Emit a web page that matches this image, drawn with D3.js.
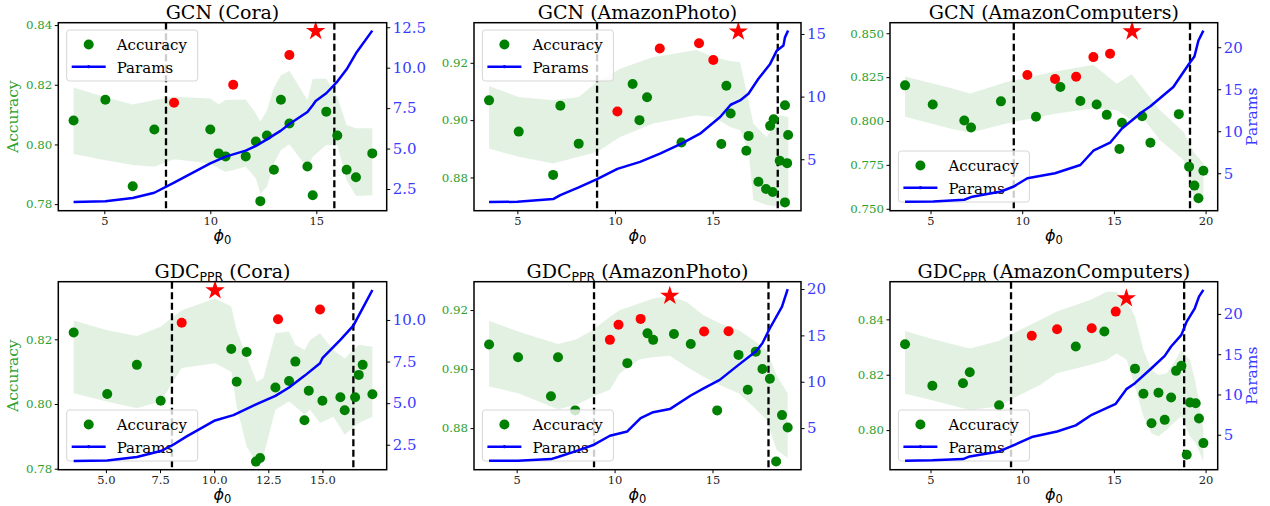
<!DOCTYPE html>
<html lang="en">
<head>
<meta charset="UTF-8">
<title>phi0 sweep</title>
<script src="https://d3js.org/d3.v7.min.js"></script>
<style>
  body { margin: 0; background: #fff; }
  text { font-family: "DejaVu Serif", serif; }
</style>
</head>
<body>
<script>
// ---------- GCN (Cora)
var gcnCoraPhi = [3.55, 5.05, 6.34, 7.36, 10.0, 10.39, 10.72, 11.67, 12.15, 12.36, 12.67, 13.0, 13.33, 13.73, 14.58, 14.83, 15.47, 15.99, 16.43, 16.87, 17.64];
var gcnCoraAcc = [0.808, 0.815, 0.786, 0.805, 0.805, 0.797, 0.796, 0.796, 0.801, 0.781, 0.803, 0.7915, 0.815, 0.807, 0.7926, 0.783, 0.811, 0.803, 0.7915, 0.789, 0.797];
var gcnCoraBestPhi = [8.29, 11.08, 13.73];
var gcnCoraBestAcc = [0.814, 0.820, 0.830];
var gcnCoraStar = [14.97, 0.838];
var gcnCoraBandPhi = [3.55, 5.05, 6.34, 7.36, 8.29, 10.0, 10.39, 10.72, 11.67, 12.15, 12.36, 12.67, 13.0, 13.33, 13.73, 14.58, 14.83, 15.47, 15.99, 16.43, 16.87, 17.64];
var gcnCoraBandHi = [0.8191, 0.8158, 0.8134, 0.8149, 0.8160, 0.8154, 0.8135, 0.8149, 0.8151, 0.8104, 0.8076, 0.8115, 0.8191, 0.8232, 0.8247, 0.8149, 0.8220, 0.8220, 0.8160, 0.8065, 0.8054, 0.8054];
var gcnCoraBandLo = [0.7968, 0.7947, 0.7931, 0.7925, 0.7950, 0.7936, 0.7920, 0.7908, 0.7925, 0.7886, 0.7834, 0.7858, 0.7936, 0.7981, 0.8001, 0.7920, 0.7959, 0.7998, 0.7998, 0.7880, 0.7827, 0.7830];
var gcnCoraParamPhi = [3.55, 5.05, 6.34, 7.36, 8.29, 10.0, 10.72, 11.67, 12.15, 12.67, 13.33, 13.73, 14.58, 14.83, 14.97, 15.47, 15.99, 16.43, 16.87, 17.64];
var gcnCoraParams = [1.70, 1.74, 1.94, 2.27, 2.90, 4.09, 4.5, 4.87, 5.16, 5.57, 6.11, 6.52, 7.26, 7.68, 7.94, 8.42, 9.14, 9.9, 10.89, 12.29];
var gcnCoraCuts = [7.91, 15.85];

// ---------- GCN (AmazonPhoto)
var gcnPhotoPhi = [3.55, 5.07, 6.83, 7.20, 8.14, 10.90, 11.25, 11.64, 13.40, 15.44, 15.70, 15.92, 16.72, 16.84, 17.34, 17.73, 17.94, 18.07, 18.12, 18.43, 18.70, 18.70, 18.81, 18.86];
var gcnPhotoAcc = [0.9069, 0.896, 0.8809, 0.905, 0.8918, 0.9126, 0.900, 0.908, 0.8922, 0.8917, 0.912, 0.9023, 0.8893, 0.8945, 0.8785, 0.876, 0.898, 0.8749, 0.9003, 0.8858, 0.9052, 0.8713, 0.885, 0.8948];
var gcnPhotoBestPhi = [10.12, 12.29, 14.30, 15.03];
var gcnPhotoBestAcc = [0.903, 0.925, 0.9268, 0.921];
var gcnPhotoStar = [16.31, 0.9309];
var gcnPhotoBandPhi = [3.55, 5.07, 6.83, 8.14, 9.08, 10.26, 11.96, 14.18, 15.03, 15.89, 16.40, 16.83, 17.08, 17.76, 18.45, 18.87];
var gcnPhotoBandHi = [0.9119, 0.9081, 0.9069, 0.9081, 0.9133, 0.9179, 0.9220, 0.9245, 0.9220, 0.9206, 0.9202, 0.9069, 0.8988, 0.8941, 0.9017, 0.9011];
var gcnPhotoBandLo = [0.8901, 0.8872, 0.8849, 0.8872, 0.8889, 0.8941, 0.8988, 0.9017, 0.9011, 0.8976, 0.8965, 0.8895, 0.8721, 0.8704, 0.8698, 0.8698];
var gcnPhotoParamPhi = [3.55, 5.0, 6.83, 7.2, 8.14, 9.08, 10.12, 11.28, 12.3, 13.4, 14.35, 15.38, 15.92, 16.4, 16.83, 17.34, 17.94, 18.28, 18.62, 18.7, 18.86];
var gcnPhotoParams = [1.58, 1.6, 1.82, 2.14, 2.75, 3.41, 4.23, 4.79, 5.45, 6.25, 7.04, 8.37, 9.35, 9.69, 10.23, 11.42, 12.61, 13.67, 14.07, 14.73, 15.27];
var gcnPhotoCuts = [9.08, 18.33];

// ---------- GCN (AmazonComputers)
var gcnCompPhi = [3.61, 5.12, 6.84, 7.21, 8.84, 10.75, 12.08, 13.17, 14.06, 14.61, 15.30, 15.44, 16.54, 16.99, 18.54, 19.10, 19.39, 19.61, 19.88];
var gcnCompAcc = [0.8203, 0.8094, 0.8003, 0.7963, 0.8112, 0.8024, 0.8194, 0.8114, 0.8094, 0.8035, 0.784, 0.799, 0.8027, 0.7876, 0.8039, 0.774, 0.7632, 0.756, 0.7717];
var gcnCompBestPhi = [10.28, 11.79, 12.94, 13.88, 14.79];
var gcnCompBestAcc = [0.8262, 0.8239, 0.8252, 0.8364, 0.8383];
var gcnCompStar = [15.99, 0.851];
var gcnCompBandPhi = [3.61, 6.06, 7.15, 9.15, 11.88, 13.88, 15.15, 15.97, 16.52, 17.52, 18.79, 19.34, 19.88];
var gcnCompBandHi = [0.8254, 0.8190, 0.8156, 0.8222, 0.8283, 0.8320, 0.8212, 0.8266, 0.8194, 0.8061, 0.7939, 0.7825, 0.7759];
var gcnCompBandLo = [0.8024, 0.7957, 0.7933, 0.7986, 0.8043, 0.8071, 0.8061, 0.8005, 0.8024, 0.7891, 0.7778, 0.7570, 0.7551];
var gcnCompParamPhi = [3.61, 5.15, 6.84, 7.21, 8.84, 9.54, 10.28, 11.79, 13.17, 13.88, 14.79, 15.44, 16.54, 16.99, 18.24, 19.1, 19.39, 19.61, 19.88];
var gcnCompParams = [1.6, 1.64, 1.84, 2.16, 2.83, 3.42, 4.41, 5.0, 5.98, 7.68, 8.63, 10.33, 12.3, 12.97, 15.26, 18.03, 18.9, 20.8, 21.97];
var gcnCompCuts = [9.54, 19.15];

// ---------- GDC_PPR (Cora)
var gdcCoraPhi = [3.51, 5.06, 6.43, 7.53, 10.79, 11.04, 11.50, 11.93, 12.12, 12.83, 13.46, 13.75, 14.17, 14.37, 15.0, 15.83, 16.03, 16.51, 16.68, 16.86, 17.31];
var gdcCoraAcc = [0.8221, 0.8031, 0.8121, 0.801, 0.817, 0.8069, 0.8161, 0.7822, 0.7833, 0.8051, 0.8071, 0.8131, 0.795, 0.8041, 0.801, 0.8021, 0.7981, 0.8021, 0.809, 0.8121, 0.803];
var gdcCoraBestPhi = [8.50, 12.95, 14.89];
var gdcCoraBestAcc = [0.8251, 0.8262, 0.8292];
var gdcCoraStar = [10.04, 0.8351];
var gdcCoraBandPhi = [3.51, 5.03, 6.43, 7.53, 8.50, 10.04, 10.79, 11.04, 11.50, 11.96, 12.27, 12.83, 13.46, 13.75, 14.17, 14.43, 14.89, 15.51, 16.03, 16.68, 17.31];
var gdcCoraBandHi = [0.8258, 0.8229, 0.8210, 0.8239, 0.8290, 0.8326, 0.8301, 0.8229, 0.8147, 0.8069, 0.8080, 0.8219, 0.8224, 0.8183, 0.8167, 0.8198, 0.8219, 0.8167, 0.8141, 0.8183, 0.8177];
var gdcCoraBandLo = [0.8033, 0.8008, 0.7987, 0.8008, 0.8111, 0.8126, 0.8100, 0.7992, 0.7869, 0.7817, 0.7838, 0.7982, 0.8008, 0.7992, 0.7967, 0.7982, 0.7941, 0.7961, 0.7905, 0.7941, 0.7961];
var gdcCoraParamPhi = [3.51, 5.06, 6.43, 7.53, 8.11, 8.73, 10.04, 10.89, 11.96, 12.83, 13.46, 14.17, 14.89, 15.0, 15.83, 16.43, 16.9, 17.31];
var gdcCoraParams = [1.52, 1.56, 1.76, 2.12, 2.5, 3.0, 3.96, 4.28, 4.94, 5.44, 5.94, 6.64, 7.4, 7.7, 8.8, 9.66, 10.8, 11.8];
var gdcCoraCuts = [8.05, 16.43];

// ---------- GDC_PPR (AmazonPhoto)
var gdcPhotoPhi = [3.59, 5.07, 6.75, 7.11, 7.99, 10.65, 11.68, 11.97, 13.03, 13.89, 15.24, 16.33, 16.80, 17.21, 17.55, 17.93, 18.25, 18.55, 18.84];
var gdcPhotoAcc = [0.9083, 0.904, 0.8908, 0.904, 0.886, 0.902, 0.9121, 0.9099, 0.9119, 0.9085, 0.886, 0.9048, 0.893, 0.9059, 0.9, 0.8967, 0.8687, 0.8844, 0.8802];
var gdcPhotoBestPhi = [9.76, 10.20, 11.33, 14.57, 15.82];
var gdcPhotoBestAcc = [0.9099, 0.915, 0.917, 0.9127, 0.9128];
var gdcPhotoStar = [12.82, 0.9248];
var gdcPhotoBandPhi = [3.59, 5.07, 7.11, 8.06, 8.91, 9.76, 10.27, 11.29, 11.97, 12.82, 13.67, 14.52, 15.37, 16.33, 17.07, 17.76, 18.27, 18.84];
var gdcPhotoBandHi = [0.9164, 0.9127, 0.9085, 0.9101, 0.9133, 0.9177, 0.92, 0.9223, 0.9239, 0.9247, 0.9228, 0.9183, 0.9155, 0.9132, 0.9099, 0.9065, 0.8980, 0.8918];
var gdcPhotoBandLo = [0.8941, 0.8918, 0.8864, 0.8879, 0.8907, 0.8930, 0.8986, 0.9033, 0.9040, 0.9045, 0.9008, 0.8975, 0.8946, 0.8918, 0.8873, 0.8828, 0.8727, 0.8699];
var gdcPhotoParamPhi = [3.59, 5.07, 6.75, 7.11, 7.99, 8.95, 9.76, 10.65, 11.33, 11.97, 12.82, 13.89, 14.57, 15.37, 16.33, 17.21, 17.55, 17.93, 18.55, 18.84];
var gdcPhotoParams = [1.49, 1.49, 1.66, 1.88, 2.49, 3.21, 4.18, 4.64, 6.08, 6.72, 7.05, 8.52, 9.31, 10.2, 11.82, 13.25, 14.15, 15.77, 18.1, 20.0];
var gdcPhotoCuts = [8.95, 17.86];

// ---------- GDC_PPR (AmazonComputers)
var gdcCompPhi = [3.61, 5.10, 6.77, 7.14, 8.74, 12.92, 14.48, 16.15, 16.61, 17.05, 17.43, 17.77, 18.12, 18.39, 18.68, 18.97, 19.15, 19.46, 19.64, 19.88];
var gdcCompAcc = [0.831, 0.816, 0.8169, 0.8209, 0.809, 0.8302, 0.8356, 0.8222, 0.8131, 0.8025, 0.8135, 0.8037, 0.8118, 0.8214, 0.8232, 0.7911, 0.81, 0.8097, 0.8042, 0.7953];
var gdcCompBestPhi = [10.52, 11.90, 13.79, 15.1];
var gdcCompBestAcc = [0.8341, 0.8364, 0.8368, 0.8428];
var gdcCompStar = [15.68, 0.8476];
var gdcCompBandPhi = [3.61, 5.15, 7.14, 8.74, 9.70, 10.97, 11.88, 13.70, 14.61, 15.15, 15.70, 16.15, 16.61, 17.05, 17.43, 17.88, 18.24, 18.68, 19.15, 19.46, 19.88];
var gdcCompBandHi = [0.8358, 0.8328, 0.8295, 0.8323, 0.8356, 0.8398, 0.8428, 0.8470, 0.8500, 0.8500, 0.8464, 0.8410, 0.8289, 0.8217, 0.8199, 0.8205, 0.8241, 0.8289, 0.8253, 0.8169, 0.8001];
var gdcCompBandLo = [0.8131, 0.8107, 0.8073, 0.8085, 0.8121, 0.8163, 0.8205, 0.8235, 0.8253, 0.8277, 0.8253, 0.8157, 0.8049, 0.7989, 0.7977, 0.8001, 0.8025, 0.8049, 0.7977, 0.7953, 0.7887];
var gdcCompParamPhi = [3.61, 5.10, 6.77, 7.14, 8.74, 9.39, 10.52, 11.9, 12.92, 13.79, 15.1, 15.68, 16.15, 17.05, 17.77, 18.12, 18.68, 18.97, 19.41, 19.64, 19.88];
var gdcCompParams = [1.78, 1.82, 1.98, 2.31, 2.93, 3.55, 4.71, 5.41, 6.16, 7.48, 8.84, 10.66, 11.4, 13.26, 14.79, 15.95, 17.4, 19.05, 20.7, 22.15, 22.98];
var gdcCompCuts = [9.39, 18.83];

// tick labels
var xTicksInt = [5, 10, 15, 20];
var xTicksHalf = [5.0, 7.5, 10.0, 12.5, 15.0];
var accTicks2 = [0.78, 0.80, 0.82, 0.84, 0.86, 0.88, 0.90, 0.92, 0.94];
var accTicks3 = [0.750, 0.775, 0.800, 0.825, 0.850];
var parTicksHalf = [2.5, 5.0, 7.5, 10.0, 12.5];
var parTicksInt = [5, 10, 15, 20];

var zip = function(a, b) { return a.map(function(v, i) { return [v, b[i]]; }); };

var panels = [
  { model: "GCN", data: "Cora", col: 0, row: 0, leg: "top", yLab: true, pLab: false,
    pts: zip(gcnCoraPhi, gcnCoraAcc), best: zip(gcnCoraBestPhi, gcnCoraBestAcc), star: gcnCoraStar,
    band: gcnCoraBandPhi.map(function(p, i) { return [p, gcnCoraBandLo[i], gcnCoraBandHi[i]]; }),
    params: zip(gcnCoraParamPhi, gcnCoraParams), cuts: gcnCoraCuts,
    xd: [2.83, 18.32], yd: [0.7778, 0.8408], pd: [1.16, 12.78],
    xt: xTicksInt, xf: "d", yt: accTicks2, yf: ".2f", pt: parTicksHalf, pf: ".1f" },
  { model: "GCN", data: "AmazonPhoto", col: 1, row: 0, leg: "top", yLab: false, pLab: false,
    pts: zip(gcnPhotoPhi, gcnPhotoAcc), best: zip(gcnPhotoBestPhi, gcnPhotoBestAcc), star: gcnPhotoStar,
    band: gcnPhotoBandPhi.map(function(p, i) { return [p, gcnPhotoBandLo[i], gcnPhotoBandHi[i]]; }),
    params: zip(gcnPhotoParamPhi, gcnPhotoParams), cuts: gcnPhotoCuts,
    xd: [2.78, 19.52], yd: [0.8684, 0.934], pd: [0.89, 15.9],
    xt: xTicksInt, xf: "d", yt: accTicks2, yf: ".2f", pt: parTicksInt, pf: "d" },
  { model: "GCN", data: "AmazonComputers", col: 2, row: 0, leg: "bottom", yLab: false, pLab: true,
    pts: zip(gcnCompPhi, gcnCompAcc), best: zip(gcnCompBestPhi, gcnCompBestAcc), star: gcnCompStar,
    band: gcnCompBandPhi.map(function(p, i) { return [p, gcnCompBandLo[i], gcnCompBandHi[i]]; }),
    params: zip(gcnCompParamPhi, gcnCompParams), cuts: gcnCompCuts,
    xd: [2.79, 20.66], yd: [0.7489, 0.856], pd: [0.54, 22.92],
    xt: xTicksInt, xf: "d", yt: accTicks3, yf: ".3f", pt: parTicksInt, pf: "d" },
  { model: "GDC", data: "Cora", col: 0, row: 1, leg: "bottom", yLab: true, pLab: false,
    pts: zip(gdcCoraPhi, gdcCoraAcc), best: zip(gdcCoraBestPhi, gdcCoraBestAcc), star: gdcCoraStar,
    band: gdcCoraBandPhi.map(function(p, i) { return [p, gdcCoraBandLo[i], gdcCoraBandHi[i]]; }),
    params: zip(gdcCoraParamPhi, gdcCoraParams), cuts: gdcCoraCuts,
    xd: [2.80, 17.97], yd: [0.7797, 0.8378], pd: [1.0, 12.3],
    xt: xTicksHalf, xf: ".1f", yt: accTicks2, yf: ".2f", pt: parTicksHalf, pf: ".1f" },
  { model: "GDC", data: "AmazonPhoto", col: 1, row: 1, leg: "bottom", yLab: false, pLab: false,
    pts: zip(gdcPhotoPhi, gdcPhotoAcc), best: zip(gdcPhotoBestPhi, gdcPhotoBestAcc), star: gdcPhotoStar,
    band: gdcPhotoBandPhi.map(function(p, i) { return [p, gdcPhotoBandLo[i], gdcPhotoBandHi[i]]; }),
    params: zip(gdcPhotoParamPhi, gdcPhotoParams), cuts: gdcPhotoCuts,
    xd: [2.82, 19.52], yd: [0.8659, 0.9296], pd: [0.515, 20.79],
    xt: xTicksInt, xf: "d", yt: accTicks2, yf: ".2f", pt: parTicksInt, pf: "d" },
  { model: "GDC", data: "AmazonComputers", col: 2, row: 1, leg: "bottom", yLab: false, pLab: true,
    pts: zip(gdcCompPhi, gdcCompAcc), best: zip(gdcCompBestPhi, gdcCompBestAcc), star: gdcCompStar,
    band: gdcCompBandPhi.map(function(p, i) { return [p, gdcCompBandLo[i], gdcCompBandHi[i]]; }),
    params: zip(gdcCompParamPhi, gdcCompParams), cuts: gdcCompCuts,
    xd: [2.79, 20.66], yd: [0.7857, 0.8536], pd: [0.66, 24.0],
    xt: xTicksInt, xf: "d", yt: accTicks2, yf: ".2f", pt: parTicksInt, pf: "d" }
];

var colX = [58.3, 474, 890];
var colW = [328.4, 327, 327.7];
var rowY = [22.7, 281.7];
var h = 188;

var accColor = "#2ca02c";
var parColor = "#3a3aff";

var svg = d3.select("body").append("svg")
  .attr("width", 1270)
  .attr("height", 506);

panels.forEach(function(p) {
  var w = colW[p.col];
  var g = svg.append("g")
    .attr("transform", "translate(" + colX[p.col] + "," + rowY[p.row] + ")");

  var x = d3.scaleLinear().domain(p.xd).range([0, w]);
  var y = d3.scaleLinear().domain(p.yd).range([h, 0]);
  var yp = d3.scaleLinear().domain(p.pd).range([h, 0]);

  var inX = function(v) { return v >= p.xd[0] && v <= p.xd[1]; };

  // std band
  g.append("path")
    .datum(p.band)
    .attr("fill", "rgb(0,128,0)")
    .attr("fill-opacity", 0.11)
    .attr("d", d3.area()
      .x(function(d) { return x(d[0]); })
      .y0(function(d) { return y(d[1]); })
      .y1(function(d) { return y(d[2]); }));

  // cut lines
  g.selectAll(".cut")
    .data(p.cuts)
    .enter()
    .append("line")
    .attr("x1", function(d) { return x(d); })
    .attr("x2", function(d) { return x(d); })
    .attr("y1", 0)
    .attr("y2", h)
    .attr("stroke", "#000")
    .attr("stroke-width", 2.3)
    .attr("stroke-dasharray", "7,3.5");

  g.selectAll(".pt")
    .data(p.pts)
    .enter()
    .append("circle")
    .attr("cx", function(d) { return x(d[0]); })
    .attr("cy", function(d) { return y(d[1]); })
    .attr("r", 5)
    .attr("fill", "green");

  g.selectAll(".best")
    .data(p.best)
    .enter()
    .append("circle")
    .attr("cx", function(d) { return x(d[0]); })
    .attr("cy", function(d) { return y(d[1]); })
    .attr("r", 5)
    .attr("fill", "red");

  g.append("path")
    .attr("d", d3.symbol().type(d3.symbolStar).size(115)())
    .attr("transform", "translate(" + x(p.star[0]) + "," + y(p.star[1]) + ")")
    .attr("fill", "red");

  // legend
  var ly = p.leg === "top" ? 7.3 : h - 8.7 - 51;
  var leg = g.append("g").attr("transform", "translate(8.4," + ly + ")");
  leg.append("rect")
    .attr("width", 131).attr("height", 51).attr("rx", 3)
    .attr("fill", "#fff").attr("fill-opacity", 0.8)
    .attr("stroke", "#d6d6d6").attr("stroke-width", 1);
  leg.append("circle").attr("cx", 22).attr("cy", 14.5).attr("r", 5).attr("fill", "green");
  leg.append("line").attr("x1", 5).attr("x2", 39).attr("y1", 36.7).attr("y2", 36.7)
    .attr("stroke", "blue").attr("stroke-width", 2.5);
  leg.append("circle").attr("cx", 22).attr("cy", 36.7).attr("r", 1.6).attr("fill", "blue");
  leg.append("text").attr("x", 50).attr("y", 20).attr("font-size", 15).text("Accuracy");
  leg.append("text").attr("x", 50).attr("y", 42.5).attr("font-size", 15).text("Params");

  // params line (twin axis, drawn last)
  g.append("path")
    .datum(p.params)
    .attr("fill", "none")
    .attr("stroke", "blue")
    .attr("stroke-width", 2.5)
    .attr("stroke-linejoin", "round")
    .attr("d", d3.line()
      .x(function(d) { return x(d[0]); })
      .y(function(d) { return yp(d[1]); }));

  // axes
  var xa = g.append("g").attr("transform", "translate(0," + h + ")")
    .call(d3.axisBottom(x).tickValues(p.xt.filter(inX)).tickFormat(d3.format(p.xf)).tickSize(3.5).tickPadding(2.5));
  xa.selectAll("text").attr("font-family", "DejaVu Serif").attr("font-size", 11.5).attr("fill", "#222");

  var ya = g.append("g")
    .call(d3.axisLeft(y).tickValues(p.yt.filter(function(v) { return v >= p.yd[0] && v <= p.yd[1]; }))
      .tickFormat(d3.format(p.yf)).tickSize(3.5).tickPadding(2.5));
  ya.selectAll("text").attr("font-family", "DejaVu Serif").attr("font-size", 11.8).attr("fill", accColor);

  var pa = g.append("g").attr("transform", "translate(" + w + ",0)")
    .call(d3.axisRight(yp).tickValues(p.pt.filter(function(v) { return v >= p.pd[0] && v <= p.pd[1]; }))
      .tickFormat(d3.format(p.pf)).tickSize(3.5).tickPadding(2.5));
  pa.selectAll("text").attr("font-family", "DejaVu Serif").attr("font-size", 15).attr("fill", parColor);

  [xa, ya, pa].forEach(function(a) {
    a.select(".domain").remove();
    a.selectAll("line").attr("stroke", "#000").attr("stroke-width", 1);
  });

  g.append("rect")
    .attr("width", w).attr("height", h)
    .attr("fill", "none").attr("stroke", "#000").attr("stroke-width", 1.5);

  // title
  var t = g.append("text")
    .attr("x", w / 2).attr("y", -4)
    .attr("text-anchor", "middle")
    .attr("font-size", 19);
  t.append("tspan").text(p.model);
  if (p.model === "GDC") {
    t.append("tspan").attr("font-family", "DejaVu Sans").attr("font-size", 12.5).attr("dy", 3).text("PPR");
    t.append("tspan").attr("dy", -3).text(" (" + p.data + ")");
  } else {
    t.append("tspan").text(" (" + p.data + ")");
  }

  // x label
  var xl = g.append("text")
    .attr("x", w / 2).attr("y", h + 30)
    .attr("text-anchor", "middle")
    .attr("font-size", 16);
  xl.append("tspan").attr("font-family", "DejaVu Sans").attr("font-style", "italic").text("ϕ");
  xl.append("tspan").attr("font-family", "DejaVu Sans").attr("font-size", 11.5).attr("dy", 3).text("0");

  if (p.yLab) {
    g.append("text")
      .attr("transform", "translate(-40," + (h / 2) + ") rotate(-90)")
      .attr("text-anchor", "middle")
      .attr("font-size", 15.5)
      .attr("fill", accColor)
      .text("Accuracy");
  }
  if (p.pLab) {
    g.append("text")
      .attr("transform", "translate(" + (w + 39) + "," + (h / 2) + ") rotate(-90)")
      .attr("text-anchor", "middle")
      .attr("font-size", 15.5)
      .attr("fill", parColor)
      .text("Params");
  }
});
</script>
</body>
</html>
